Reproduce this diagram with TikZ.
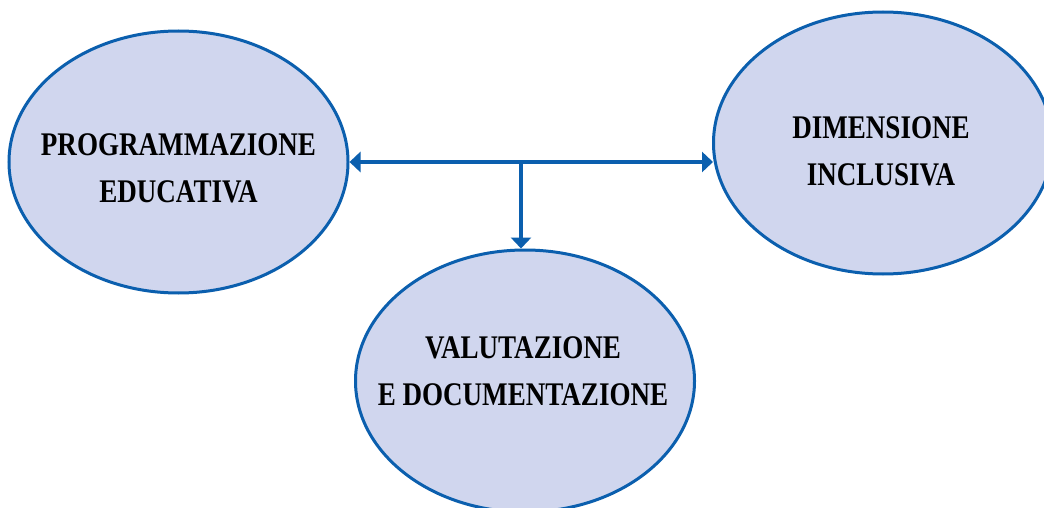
\documentclass[tikz,border=0pt]{standalone}
\usepackage{fontspec}
\setmainfont{Liberation Serif}[FakeStretch=0.82]
\usetikzlibrary{shapes.geometric,arrows.meta}
\definecolor{ringblue}{HTML}{0B5FAE}
\definecolor{bubble}{HTML}{D0D6EE}
\tikzset{
  bubblenode/.style={ellipse, draw=ringblue, line width=3pt, fill=bubble,
    minimum width=339pt, minimum height=262pt, inner sep=0pt},
  caption/.style={align=center, font=\bfseries\fontsize{33}{47}\selectfont,
    text=black, inner sep=0pt},
  link/.style={draw=ringblue, line width=4pt},
  tip/.style={-{Triangle[length=11pt,width=20pt]}}
}
\begin{document}
\begin{tikzpicture}[x=1pt,y=-1pt]
  \useasboundingbox (0,0) rectangle (1044,508);
  \clip (0,0) rectangle (1044,508);
  \fill[white] (0,0) rectangle (1044,508);

  % the three topics
  \node[bubblenode] (prog) at (178.5,162) {};
  \node[bubblenode] (incl) at (883,143) {};
  \node[bubblenode] (valu) at (525,381) {};

  % captions, placed by the baseline of their last line
  \node[caption, anchor=base] (progtxt) at (178.5,202)
    {PROGRAMMAZIONE\\EDUCATIVA};
  \node[caption, anchor=base] (incltxt) at (881,185)
    {DIMENSIONE\\INCLUSIVA};
  \node[caption, anchor=base] (valutxt) at (523,405)
    {VALUTAZIONE\\E DOCUMENTAZIONE};

  % branching connector
  \coordinate (hub) at (521,162);
  \draw[link, tip] (hub) -- (prog.east |- hub);
  \draw[link, tip] (hub) -- ([xshift=1pt]incl.west |- hub);
  \draw[link, tip] (hub) -- (hub |- valu.north);
\end{tikzpicture}
\end{document}
